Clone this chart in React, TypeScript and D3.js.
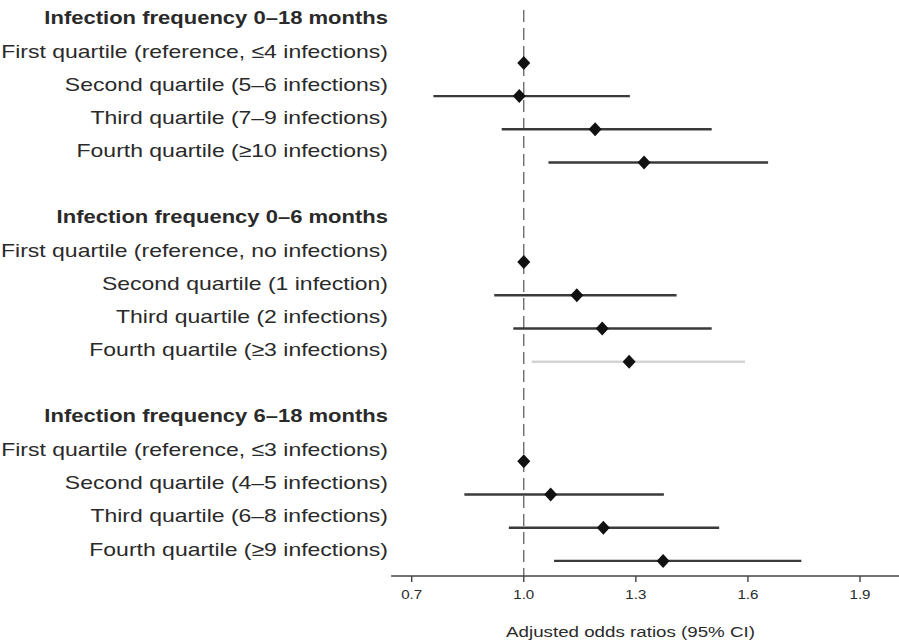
import React from "react";
import * as d3 from "d3";

const groupTitles = [
  "Infection frequency 0–18 months",
  "Infection frequency 0–6 months",
  "Infection frequency 6–18 months",
];
const rowLabels = [
  "First quartile (reference, ≤4 infections)",
  "Second quartile (5–6 infections)",
  "Third quartile (7–9 infections)",
  "Fourth quartile (≥10 infections)",
  "First quartile (reference, no infections)",
  "Second quartile (1 infection)",
  "Third quartile (2 infections)",
  "Fourth quartile (≥3 infections)",
  "First quartile (reference, ≤3 infections)",
  "Second quartile (4–5 infections)",
  "Third quartile (6–8 infections)",
  "Fourth quartile (≥9 infections)",
];
const oddsRatios = [1.0, 0.988, 1.191, 1.322, 1.0, 1.142, 1.21, 1.282, 1.0, 1.072, 1.213, 1.373];
const lowerCI: (number | null)[] = [null, 0.758, 0.941, 1.066, null, 0.921, 0.972, 1.021, null, 0.841, 0.96, 1.081];
const upperCI: (number | null)[] = [null, 1.284, 1.503, 1.654, null, 1.409, 1.503, 1.592, null, 1.375, 1.523, 1.743];
const faded = [false, false, false, false, false, false, false, true, false, false, false, false];
const tickValues = [0.7, 1.0, 1.3, 1.6, 1.9];
const axisTitle = "Adjusted odds ratios (95% CI)";
const axisExtent = [0.645, 2.012];

const W = 899;
const H = 640;
const FONT = "'Liberation Sans', Arial, Helvetica, sans-serif";
const SX = 1.21;

function diamondPath(hw: number, hh: number) {
  const p = d3.path();
  p.moveTo(0, -hh);
  p.lineTo(hw, 0);
  p.lineTo(0, hh);
  p.lineTo(-hw, 0);
  p.closePath();
  return p.toString();
}

export default function App() {
  const x = d3.scaleLinear().domain([0.7, 1.9]).range([411.7, 860]);
  const y = d3.scaleLinear().domain([0, 16]).range([29.7, 560.9]);
  const axisY = 576;
  const labelX = 388;

  // row index: group g header at g*6, rows at g*6+1..4
  const rowIndex = (i: number) => Math.floor(i / 4) * 6 + (i % 4) + 1;
  const dPath = diamondPath(6.5, 7);

  return (
    <div style={{ position: "absolute", left: 0, top: 0 }}>
      <svg width={W} height={H} style={{ display: "block", background: "#fff" }}>
        {/* reference line */}
        <line
          x1={x(1)}
          x2={x(1)}
          y1={10}
          y2={axisY}
          stroke="#555"
          strokeWidth={1.2}
          strokeDasharray="12,6"
        />
        {/* group titles */}
        {groupTitles.map((t, g) => (
          <text
            key={"g" + g}
            transform={`translate(${labelX},${y(g * 6) - 12}) scale(${SX},1)`}
            textAnchor="end"
            dominantBaseline="central"
            fontFamily={FONT}
            fontWeight="bold"
            fontSize={18.2}
            fill="#2a2a2a"
          >
            {t}
          </text>
        ))}
        {/* row labels */}
        {rowLabels.map((t, i) => (
          <text
            key={"l" + i}
            transform={`translate(${labelX},${y(rowIndex(i)) - 12}) scale(${SX},1)`}
            textAnchor="end"
            dominantBaseline="central"
            fontFamily={FONT}
            fontSize={19}
            fill="#2a2a2a"
          >
            {t}
          </text>
        ))}
        {/* CI lines */}
        {oddsRatios.map((v, i) =>
          lowerCI[i] != null && upperCI[i] != null ? (
            <line
              key={"c" + i}
              x1={x(lowerCI[i] as number)}
              x2={x(upperCI[i] as number)}
              y1={y(rowIndex(i))}
              y2={y(rowIndex(i))}
              stroke={faded[i] ? "#d4d4d4" : "#3a3a3a"}
              strokeWidth={2.4}
            />
          ) : null
        )}
        {/* points */}
        {oddsRatios.map((v, i) => (
          <path
            key={"p" + i}
            d={dPath}
            transform={`translate(${x(v)},${y(rowIndex(i))})`}
            fill="#111"
          />
        ))}
        {/* axis */}
        <line
          x1={x(axisExtent[0])}
          x2={x(axisExtent[1])}
          y1={axisY}
          y2={axisY}
          stroke="#444"
          strokeWidth={1.6}
        />
        {tickValues.map((t) => (
          <g key={"t" + t}>
            <line x1={x(t)} x2={x(t)} y1={axisY} y2={axisY + 6} stroke="#444" strokeWidth={1.4} />
            <text
              transform={`translate(${x(t)},${axisY + 18}) scale(${SX},1)`}
              textAnchor="middle"
              dominantBaseline="central"
              fontFamily={FONT}
              fontSize={12.5}
              fill="#2a2a2a"
            >
              {t.toFixed(1)}
            </text>
          </g>
        ))}
        <text
          transform={`translate(630.5,${axisY + 56}) scale(${SX},1)`}
          textAnchor="middle"
          dominantBaseline="central"
          fontFamily={FONT}
          fontSize={15.5}
          fill="#2a2a2a"
        >
          {axisTitle}
        </text>
      </svg>
    </div>
  );
}
